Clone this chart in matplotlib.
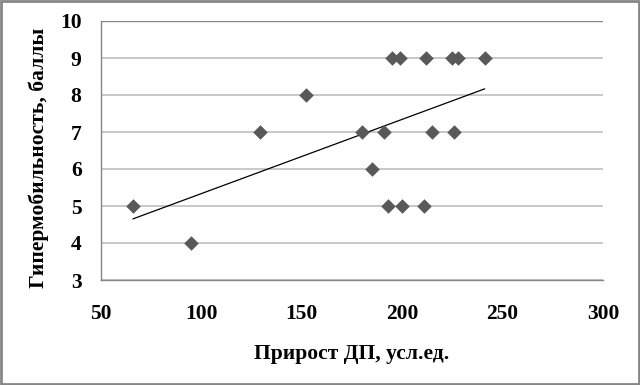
import numpy as np
import matplotlib
matplotlib.use("Agg")
import matplotlib.pyplot as plt
from matplotlib.patches import Rectangle

x_vals = [66, 95, 129, 152, 180, 191, 185, 193, 200, 211, 195, 199, 212, 225, 228, 241, 215, 226]
y_vals = [5, 4, 7, 8, 7, 7, 6, 5, 5, 5, 9, 9, 9, 9, 9, 9, 7, 7]
x_ticks = [50, 100, 150, 200, 250, 300]
y_ticks = [3, 4, 5, 6, 7, 8, 9, 10]
x_label = "Прирост ДП, усл.ед."
y_label = "Гипермобильность, баллы"

plt.rcParams['font.family'] = ['Liberation Serif', 'DejaVu Serif']

fig = plt.figure(figsize=(6.4, 3.85), dpi=100)
ax = fig.add_axes([101/640, 1 - 280/385, (603-101)/640, (280-21)/385])

ax.set_xlim(50, 300)
ax.set_ylim(3, 10)
ax.set_xticks(x_ticks)
ax.set_yticks(y_ticks)
ax.set_xticklabels([str(v) for v in x_ticks], fontsize=15.5, fontweight='bold')
ax.set_yticklabels([str(v) for v in y_ticks], fontsize=15.5, fontweight='bold')
ax.tick_params(axis='both', length=0)
ax.tick_params(axis='x', pad=17)
ax.tick_params(axis='y', pad=14)
ax.grid(axis='y', color='#bfbfbf', linewidth=1.2)
ax.set_axisbelow(True)
for s in ['top', 'right']:
    ax.spines[s].set_visible(False)
for s in ['left', 'bottom']:
    ax.spines[s].set_color('#868686')
    ax.spines[s].set_linewidth(1.0)
ax.axhline(10, color='#868686', linewidth=1.0)

ax.scatter(x_vals, y_vals, marker='D', s=55, color='#595959', zorder=3, linewidths=0)

coef = np.polyfit(x_vals, y_vals, 1)
xs = np.array([min(x_vals), max(x_vals)])
ax.plot(xs, np.polyval(coef, xs), color='black', linewidth=0.9, zorder=2)

ax.set_xlabel(x_label, fontsize=15.5, fontweight='bold', labelpad=15)
ax.set_ylabel(y_label, fontsize=15.5, fontweight='bold', labelpad=8, y=0.47)

fig.patches.append(Rectangle((0.002, 0.003), 0.996, 0.994, transform=fig.transFigure,
                             fill=False, edgecolor='#868686', linewidth=2))

fig.savefig("out.png", dpi=100)
